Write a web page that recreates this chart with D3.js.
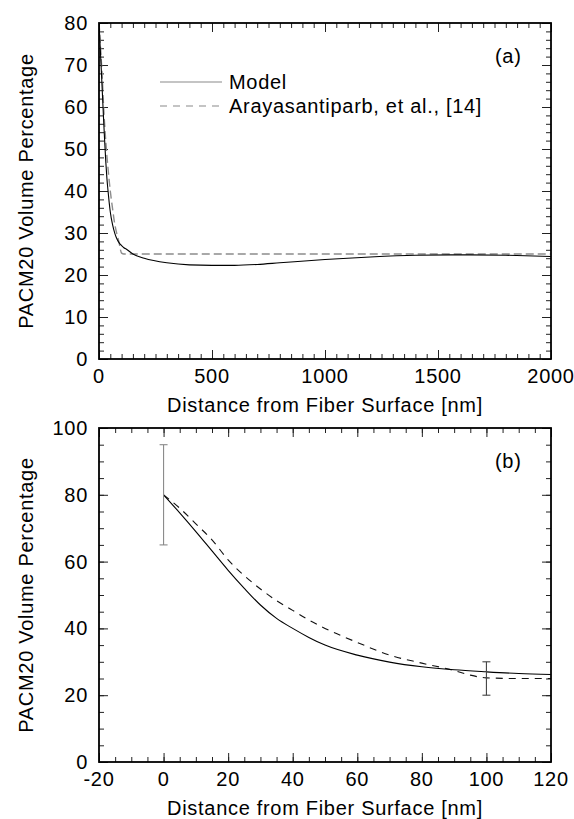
<!DOCTYPE html>
<html>
<head>
<meta charset="utf-8">
<script src="https://cdn.jsdelivr.net/npm/d3@7"></script>
<style>
    body { margin: 0; background: #fff; }
    text { font-family: "Liberation Sans", Arial, sans-serif; font-size: 20px; letter-spacing: 0.7px; fill: #000; }
</style>
</head>
<body>
<div id="chart"></div>
<script>

// model curve (solid)
const modelDistance = [0, 5, 10, 15, 20, 25, 30, 35, 40, 45, 50, 60, 70, 80, 90, 100, 110, 120,
    150, 200, 300, 400, 500, 600, 700, 800, 1000, 1200, 1400, 1600, 1800, 2000];
const modelPct = [80, 74.6, 69, 63.2, 57.4, 52, 47, 43, 40, 37.3, 35, 32, 29.9, 28.5, 27.6, 27, 26.5, 26.2,
    25, 24, 22.9, 22.4, 22.3, 22.3, 22.5, 22.9, 23.7, 24.3, 24.7, 24.8, 24.7, 24.4];

// Arayasantiparb et al. [14] (dashed)
const refDistance = [0, 5, 10, 15, 20, 25, 30, 35, 40, 45, 50, 60, 70, 80, 90, 95, 100, 110, 120, 2000];
const refPct = [80, 76, 71.3, 66.5, 60.5, 55.8, 51.8, 48.3, 45.4, 42.5, 40, 35.8, 32, 29.6, 27.4, 26, 25.2, 25, 25, 25];

// error bars in panel (b)
const errDistance = [0, 100];
const errLow = [65, 20];
const errHigh = [95, 30];
const errColor = ["#8a8a8a", "#444"];

// ticks
const topXTicks = [0, 500, 1000, 1500, 2000];
const topYTicks = [0, 10, 20, 30, 40, 50, 60, 70, 80];
const botXTicks = [-20, 0, 20, 40, 60, 80, 100, 120];
const botYTicks = [0, 20, 40, 60, 80, 100];

const legendLabels = ["Model", "Arayasantiparb, et al., [14]"];

let svg = d3.select("#chart").append("svg")
    .attr("width", 574)
    .attr("height", 819);

svg.append("rect").attr("width", 574).attr("height", 819).attr("fill", "#fff");

class PanelVis {

    constructor(opts){
        this.opts = opts;
        this.initVis();
    }

    initVis(){
        let vis = this;
        let o = vis.opts;

        vis.x = d3.scaleLinear().domain(o.xDomain).range([99, 551]);
        vis.y = d3.scaleLinear().domain(o.yDomain).range([o.bottom, o.top]);

        vis.g = svg.append("g");

        // clip so the curves stay inside the frame
        vis.g.append("clipPath").attr("id", o.id + "-clip")
            .append("rect")
            .attr("x", 99).attr("y", o.top)
            .attr("width", 452).attr("height", o.bottom - o.top);

        // minor + major ticks on all four sides, pointing inward
        let minX = d3.range(o.xDomain[0], o.xDomain[1] + 0.001, o.xMinor);
        let minY = d3.range(o.yDomain[0], o.yDomain[1] + 0.001, o.yMinor);

        let mk = (axis, vals, size, tr) => {
            vis.g.append("g")
                .attr("class", "ticks")
                .attr("transform", tr)
                .call(axis.tickValues(vals).tickSize(-size).tickFormat(""))
                .call(g => g.select(".domain").remove())
                .call(g => g.selectAll("line").attr("stroke", "#222").attr("stroke-width", 1));
        };
        mk(d3.axisBottom(vis.x), minX, 5, `translate(0,${o.bottom})`);
        mk(d3.axisBottom(vis.x), o.xTicks, 9, `translate(0,${o.bottom})`);
        mk(d3.axisTop(vis.x), minX, 5, `translate(0,${o.top})`);
        mk(d3.axisTop(vis.x), o.xTicks, 9, `translate(0,${o.top})`);
        mk(d3.axisLeft(vis.y), minY, 5, `translate(99,0)`);
        mk(d3.axisLeft(vis.y), o.yTicks, 9, `translate(99,0)`);
        mk(d3.axisRight(vis.y), minY, 5, `translate(551,0)`);
        mk(d3.axisRight(vis.y), o.yTicks, 9, `translate(551,0)`);

        // tick labels
        vis.g.selectAll(".xlab").data(o.xTicks).enter().append("text")
            .attr("class", "xlab")
            .attr("x", d => vis.x(d))
            .attr("y", o.bottom + 24)
            .attr("text-anchor", "middle")
            .text(d => d);

        vis.g.selectAll(".ylab").data(o.yTicks).enter().append("text")
            .attr("class", "ylab")
            .attr("x", 88)
            .attr("y", d => vis.y(d) + 7)
            .attr("text-anchor", "end")
            .text(d => d);

        // axis titles
        vis.g.append("text")
            .attr("x", 325)
            .attr("y", o.bottom + 53)
            .attr("text-anchor", "middle")
            .text("Distance from Fiber Surface [nm]");

        vis.g.append("text")
            .attr("transform", `translate(33,${(o.top + o.bottom) / 2}) rotate(-90)`)
            .attr("text-anchor", "middle")
            .text("PACM20 Volume Percentage");

        vis.g.append("text")
            .attr("x", 495)
            .attr("y", o.top + 40)
            .text(o.tag);

        vis.updateVis();
    }

    updateVis(){
        let vis = this;
        let o = vis.opts;

        let line = d3.line()
            .x(d => vis.x(d[0]))
            .y(d => vis.y(d[1]))
            .curve(d3.curveMonotoneX);

        let modelData = modelDistance.map((d, i) => [d, modelPct[i]]).filter(d => d[0] <= o.xDomain[1]);
        let refData = refDistance.map((d, i) => [d, refPct[i]]).filter(d => d[0] <= o.xDomain[1]);

        let curves = vis.g.append("g").attr("clip-path", `url(#${o.id}-clip)`);

        curves.append("path")
            .datum(refData)
            .attr("fill", "none")
            .attr("stroke", o.refColor)
            .attr("stroke-width", o.refWidth)
            .attr("stroke-dasharray", o.dash)
            .attr("d", line);

        curves.append("path")
            .datum(modelData)
            .attr("fill", "none")
            .attr("stroke", "#000")
            .attr("stroke-width", 1.1)
            .attr("d", line);

        if (o.errors) {
            let eb = vis.g.selectAll(".err").data(errDistance).enter().append("g")
                .attr("class", "err")
                .attr("stroke", (d, i) => errColor[i])
                .attr("stroke-width", 1.1);
            eb.append("line")
                .attr("x1", d => vis.x(d)).attr("x2", d => vis.x(d))
                .attr("y1", (d, i) => vis.y(errLow[i])).attr("y2", (d, i) => vis.y(errHigh[i]));
            eb.append("line")
                .attr("x1", d => vis.x(d) - 4).attr("x2", d => vis.x(d) + 4)
                .attr("y1", (d, i) => vis.y(errLow[i])).attr("y2", (d, i) => vis.y(errLow[i]));
            eb.append("line")
                .attr("x1", d => vis.x(d) - 4).attr("x2", d => vis.x(d) + 4)
                .attr("y1", (d, i) => vis.y(errHigh[i])).attr("y2", (d, i) => vis.y(errHigh[i]));
        }

        if (o.legend) {
            let lg = vis.g.selectAll(".legend").data(legendLabels).enter().append("g")
                .attr("class", "legend")
                .attr("transform", (d, i) => `translate(160,${82 + i * 24})`);
            lg.append("line")
                .attr("x1", 0).attr("x2", 62)
                .attr("stroke", "#8a8a8a")
                .attr("stroke-width", 1.1)
                .attr("stroke-dasharray", (d, i) => i ? "7,6" : null);
            lg.append("text")
                .attr("x", 69)
                .attr("y", 7)
                .text(d => d);
        }

        // frame
        vis.g.append("rect")
            .attr("x", 99).attr("y", o.top)
            .attr("width", 452).attr("height", o.bottom - o.top)
            .attr("fill", "none")
            .attr("stroke", "#000")
            .attr("stroke-width", 1.8);
    }
}

let panelA = new PanelVis({
    id: "pa", tag: "(a)", top: 23, bottom: 359,
    xDomain: [0, 2000], yDomain: [0, 80],
    xTicks: topXTicks, yTicks: topYTicks, xMinor: 50, yMinor: 2,
    refColor: "#8c8c8c", refWidth: 1.4, dash: "8,4",
    legend: true, errors: false
});

let panelB = new PanelVis({
    id: "pb", tag: "(b)", top: 428, bottom: 762,
    xDomain: [-20, 120], yDomain: [0, 100],
    xTicks: botXTicks, yTicks: botYTicks, xMinor: 5, yMinor: 5,
    refColor: "#111", refWidth: 1.1, dash: "7,6",
    legend: false, errors: true
});

</script>
</body>
</html>
